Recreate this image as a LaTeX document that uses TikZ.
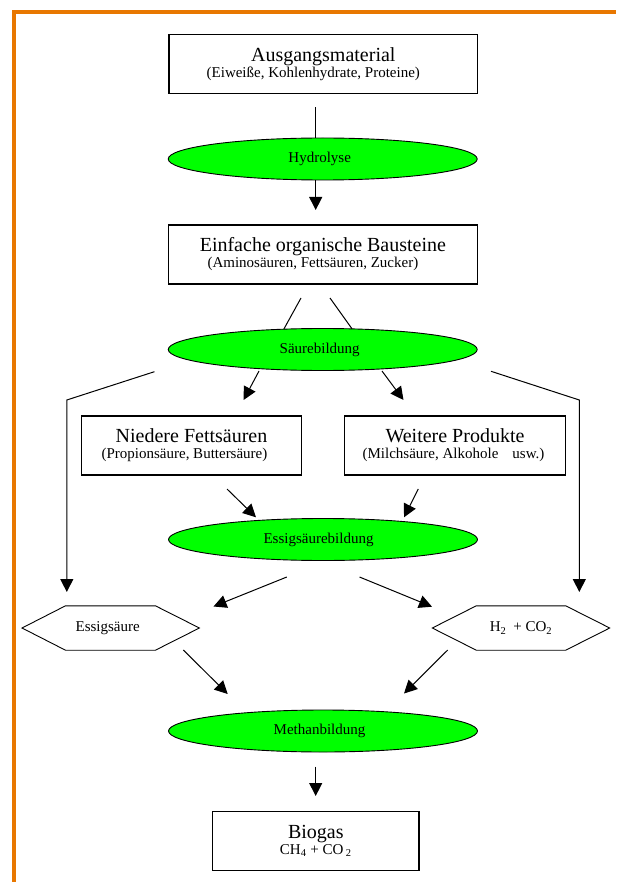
\documentclass[tikz,border=0pt]{standalone}
\usepackage{fontspec}
\setmainfont{Liberation Serif}
\usetikzlibrary{shapes.geometric,arrows.meta}
\definecolor{borderorange}{RGB}{232,119,0}
\definecolor{phasegreen}{RGB}{0,255,0}
\newcommand\titlefnt{\fontsize{20}{16}\selectfont}
\newcommand\subfnt{\fontsize{15}{16}\selectfont}
\begin{document}
\begin{tikzpicture}[x=1pt,y=-1pt,
  box/.style={draw, line width=1.1pt, rectangle, inner sep=0pt, align=center,
    minimum height=59pt, font=\subfnt},
  phase/.style={ellipse, draw, line width=0.9pt, fill=phasegreen, inner sep=0pt,
    minimum width=309pt, minimum height=42pt, font=\subfnt},
  hexnode/.style={rectangle, inner sep=0pt, minimum width=177pt,
    minimum height=44pt, font=\subfnt},
  hexline/.style={line width=0.9pt},
  conn/.style={line width=1pt},
  arr/.style={conn, -{Triangle[length=13pt,width=13pt]}}
]
\useasboundingbox (0,0) rectangle (616,882);
% orange frame
\fill[borderorange] (11.7,10) rectangle (616,13.6);
\fill[borderorange] (11.7,10) rectangle (15.7,882);

% nodes
\node[box, minimum width=308.7pt] (b1) at (323.3,64.4)
  {{\titlefnt Ausgangsmaterial}\\(Eiweiße, Kohlenhydrate, Proteine)\hspace*{20pt}};
\node[phase] (hy) at (322.7,159) {Hydrolyse\hspace*{6pt}};
\node[box, minimum width=309.7pt] (b2) at (322.9,254.5)
  {{\titlefnt Einfache organische Bausteine}\\(Aminosäuren, Fettsäuren, Zucker)\hspace*{20pt}};
\node[phase] (sb) at (322.7,349.5) {Säurebildung\hspace*{6pt}};
\node[box, minimum width=220.5pt] (nf) at (191.5,445.5)
  {{\titlefnt Niedere Fettsäuren}\\(Propionsäure, Buttersäure)\hspace*{14pt}};
\node[box, minimum width=220.7pt] (wp) at (455,445.5)
  {{\titlefnt Weitere Produkte}\\(Milchsäure, Alkohole\hspace{14pt}usw.)\hspace*{3pt}};
\node[phase] (es) at (323,539.5) {Essigsäurebildung\hspace*{9pt}};
\node[hexnode] (hexE) at (110.7,628) {Essigsäure\hspace*{6pt}};
\node[hexnode] (hexH) at (521,628) {H\textsubscript{2}\hspace{7pt}+ CO\textsubscript{2}};
\node[phase] (mb) at (323,731) {Methanbildung\hspace*{7pt}};
\node[box, minimum width=206.3pt] (bg) at (315.8,841)
  {{\titlefnt Biogas}\\CH\textsubscript{4} + CO\,\textsubscript{2}};

% hexagon outlines
\draw[hexline] (hexE.west) -- ([xshift=43.5pt]hexE.north west) -- ([xshift=-44pt]hexE.north east)
  -- (hexE.east) -- ([xshift=-44pt]hexE.south east) -- ([xshift=43.5pt]hexE.south west) -- cycle;
\draw[hexline] (hexH.west) -- ([xshift=44pt]hexH.north west) -- ([xshift=-44pt]hexH.north east)
  -- (hexH.east) -- ([xshift=-44pt]hexH.south east) -- ([xshift=44pt]hexH.south west) -- cycle;

% connector points
\coordinate (c1s) at (315.7,107.3);
\coordinate (c2t) at (315.7,210);
\coordinate (c3s) at (301,298);
\coordinate (c3t) at (284,328.8);
\coordinate (c4s) at (330,298);
\coordinate (c4t) at (352,328.8);
\coordinate (lb0) at (154.4,371.7);
\coordinate (lb1) at (66.8,400);
\coordinate (lb2) at (66.8,592);
\coordinate (rb0) at (491,371.3);
\coordinate (rb1) at (579.3,400);
\coordinate (rb2) at (579.3,592);
\coordinate (n1s) at (259,371);
\coordinate (n1t) at (243.6,400);
\coordinate (w1s) at (382,371);
\coordinate (w1t) at (403.5,400);
\coordinate (n2s) at (227,489);
\coordinate (n2t) at (256,517.3);
\coordinate (w2s) at (418.3,489);
\coordinate (w2t) at (404,517.3);
\coordinate (e1s) at (286.8,577);
\coordinate (e1t) at (213.5,606.5);
\coordinate (e2s) at (359.5,577);
\coordinate (e2t) at (432,606.7);
\coordinate (m1s) at (183.3,650);
\coordinate (m1t) at (227.7,694);
\coordinate (m2s) at (447.7,650);
\coordinate (m2t) at (404,693.5);
\coordinate (g1s) at (315.7,766.7);
\coordinate (g1t) at (315.7,796);

% connectors
\draw[conn] (c1s) -- (c1s |- hy.north);
\draw[arr] (hy.south -| c2t) -- (c2t);
\draw[conn] (c3s) -- (c3t);
\draw[conn] (c4s) -- (c4t);
\draw[arr] (lb0) -- (lb1) -- (lb2);
\draw[arr] (rb0) -- (rb1) -- (rb2);
\draw[arr] (n1s) -- (n1t);
\draw[arr] (w1s) -- (w1t);
\draw[arr] (n2s) -- (n2t);
\draw[arr] (w2s) -- (w2t);
\draw[arr] (e1s) -- (e1t);
\draw[arr] (e2s) -- (e2t);
\draw[arr] (m1s) -- (m1t);
\draw[arr] (m2s) -- (m2t);
\draw[arr] (g1s) -- (g1t);
\end{tikzpicture}
\end{document}
